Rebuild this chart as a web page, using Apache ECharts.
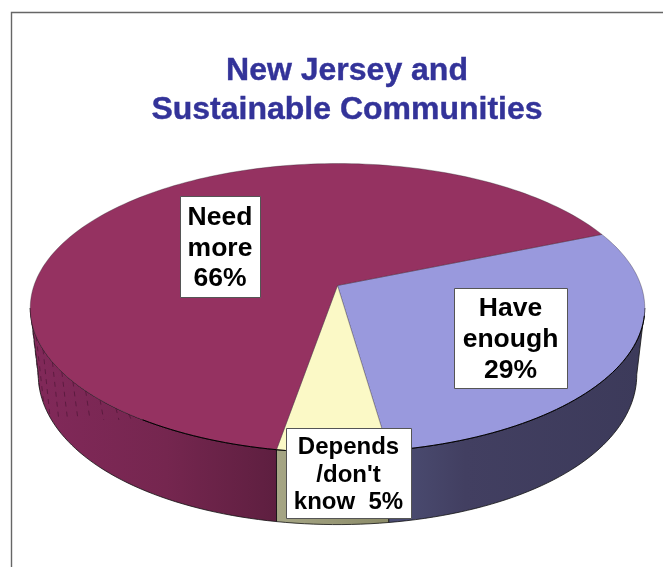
<!DOCTYPE html>
<html>
<head>
<meta charset="utf-8">
<style>html,body{margin:0;padding:0;background:#fff}#chart{width:663px;height:567px}</style>
<script src="https://cdn.jsdelivr.net/npm/echarts@6/dist/echarts.min.js"></script>
</head>
<body>
<div id="chart"></div>
<script>
// Survey shares, in drawing order (clockwise from the upper right of the disc)
const categories = ['Have enough', 'Depends /don\'t know', 'Need more'];
const values = [29, 5, 66];
const labelLines = [['Have', 'enough', '29%'], ['Depends', '/don\'t', 'know  5%'], ['Need', 'more', '66%']];
const titleLines = ['New Jersey and', 'Sustainable Communities'];

const topColors = ['#9999dd', '#fbf9c6', '#953261'];
const wallColors = [
  [[0, '#4c4e74'], [0.3, '#423f61'], [1, '#3c3a5a']],
  [[0, '#a6a685'], [1, '#8b8b68']],
  [[0, '#82295a'], [0.55, '#75264f'], [1, '#5e1f40']]
];
const labelBoxes = [[454, 288, 113, 100], [286, 428, 125, 90], [180, 196, 80, 101]];
const labelFonts = [[26.5, 31], [24, 27.5], [26.5, 30.5]];

// Perspective disc: unit circle mapped through a projective transform
const apex = { x: 337.5, y: 285.5 };
const disc = { R: 303.5, S: 141, p: 0.156, start: -22.6 };
const rim = { cy: 307.5, lower: 374, stretch: 150 / 144.5, pinch: 0.026, halfWidth: 307 };
const visibleFrom = Math.asin(disc.p) * 180 / Math.PI;
const visibleTo = 180 - visibleFrom;

// Rendering streaks on the far-left part of the maroon wall (rim angle, in degrees)
const streakAngles = [170, 165, 160, 155, 150, 146, 142, 138, 134, 130, 127];
const streakFloor = 420;

function project(deg) {
  const t = deg * Math.PI / 180;
  const u = Math.cos(t), v = Math.sin(t), w = 1 - disc.p * v;
  return [apex.x + disc.R * u / w, apex.y + disc.S * v / w];
}
function projectBase(deg) {
  const [x, y] = project(deg);
  const d = x - apex.x, k = d / rim.halfWidth;
  return [apex.x + d * (1 - rim.pinch * k * k), rim.lower + (y - rim.cy) * rim.stretch];
}
function arc(fn, a, b) {
  const n = Math.max(2, Math.ceil(Math.abs(b - a) / 1.5));
  const pts = [];
  for (let i = 0; i <= n; i++) pts.push(fn(a + (b - a) * i / n));
  return pts;
}

const total = values.reduce((s, v) => s + v, 0);
const spans = [];
values.reduce((from, v) => {
  const to = from + v / total * 360;
  spans.push([from, to]);
  return to;
}, disc.start);

function renderSlice(params) {
  const i = params.dataIndex;
  const [from, to] = spans[i];
  const children = [];

  // Side wall, only where the rim faces the viewer
  const a = Math.max(from, visibleFrom), b = Math.min(to, visibleTo);
  if (b > a) {
    const upper = arc(project, a, b), lower = arc(projectBase, a, b);
    const stops = wallColors[i].map(s => ({ offset: s[0], color: s[1] }));
    // Slices past the front centre shade the other way round
    const gradient = i === 2
      ? new echarts.graphic.LinearGradient(1, 0, 0, 0, stops.map(s => ({ offset: 1 - s.offset, color: s.color })))
      : new echarts.graphic.LinearGradient(0, 0, 1, 0, stops);
    children.push({
      type: 'polygon', z2: 1,
      shape: { points: upper.concat(lower.reverse()) },
      style: { fill: gradient, stroke: '#111', lineWidth: 0.8 }
    });
  }

  if (i === 2) {
    streakAngles.forEach(deg => {
      const p = project(deg), q = projectBase(deg);
      children.push({
        type: 'line', z2: 1.5,
        shape: { x1: p[0], y1: p[1], x2: q[0], y2: Math.min(q[1], streakFloor) },
        style: { stroke: 'rgba(50,12,35,0.45)', lineWidth: 1, lineDash: [5, 5] }
      });
    });
  }

  // Top face
  children.push({
    type: 'polygon', z2: 2,
    shape: { points: [[apex.x, apex.y]].concat(arc(project, from, to)) },
    style: { fill: topColors[i], stroke: 'rgba(40,30,40,0.55)', lineWidth: 0.6 }
  });

  // Front rim line over the top face edge
  if (b > a) {
    children.push({
      type: 'polyline', z2: 3,
      shape: { points: arc(project, Math.max(a, 12), Math.min(b, 124)) },
      style: { fill: 'none', stroke: '#000', lineWidth: 1 }
    });
  }

  // Value label in a white box
  const box = labelBoxes[i];
  const [size, leading] = labelFonts[i];
  children.push({
    type: 'rect', z2: 5,
    shape: { x: box[0] + 0.5, y: box[1] + 0.5, width: box[2], height: box[3] },
    style: { fill: '#fff', stroke: '#555', lineWidth: 1 }
  });
  children.push({
    type: 'text', z2: 6,
    style: {
      x: box[0] + box[2] / 2, y: box[1] + box[3] / 2 + 2,
      text: labelLines[i].join('\n'),
      align: 'center', verticalAlign: 'middle',
      font: 'bold ' + size + 'px "Liberation Sans"',
      lineHeight: leading,
      fill: '#000'
    }
  });
  return { type: 'group', children };
}

const chart = echarts.init(document.getElementById('chart'), null, { renderer: 'canvas' });
chart.setOption({
  animation: false,
  backgroundColor: '#fff',
  title: {
    text: titleLines.join('\n'),
    left: 342, top: 47, textAlign: 'center',
    textStyle: { fontFamily: 'Liberation Sans', fontWeight: 'bold', fontSize: 32, lineHeight: 39, color: '#333399',
                 textBorderColor: '#333399', textBorderWidth: 0.4 }
  },
  graphic: [
    { type: 'polyline', shape: { points: [[11.5, 567], [11.5, 12.5], [663, 12.5]] },
      style: { fill: 'none', stroke: '#666', lineWidth: 1.4 }, silent: true }
  ],
  series: [{
    type: 'custom',
    coordinateSystem: 'none',
    renderItem: renderSlice,
    data: values.map((v, i) => ({ name: categories[i], value: [v] }))
  }]
});
</script>
</body>
</html>
